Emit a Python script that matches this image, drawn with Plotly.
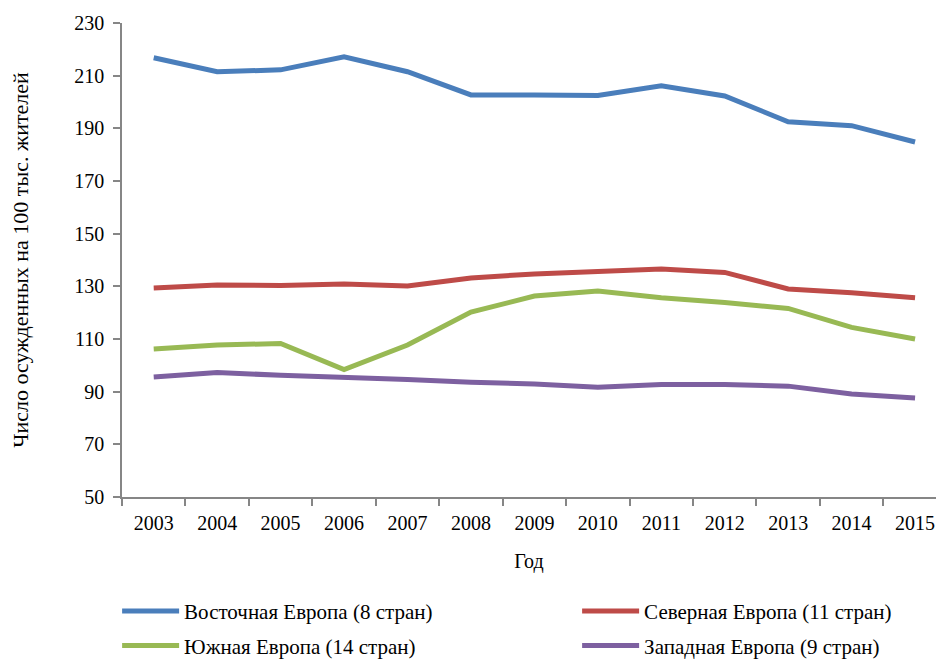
import plotly.graph_objects as go

# годы и значения (число осужденных на 100 тыс. жителей)
years = ["2003", "2004", "2005", "2006", "2007", "2008", "2009",
         "2010", "2011", "2012", "2013", "2014", "2015"]

east = [216.8, 211.5, 212.2, 217.2, 211.5, 202.7, 202.7,
        202.5, 206.2, 202.3, 192.5, 191.0, 184.8]
north = [129.4, 130.5, 130.3, 130.9, 130.1, 133.2, 134.7,
         135.8, 136.6, 135.3, 129.0, 127.6, 125.7]
south = [106.2, 107.7, 108.3, 98.4, 107.7, 120.2, 126.3,
         128.2, 125.7, 123.9, 121.6, 114.4, 110.0]
west = [95.6, 97.3, 96.2, 95.6, 94.6, 93.6, 92.9,
        91.7, 92.7, 92.7, 92.1, 89.1, 87.6]

series = [
    ("Восточная Европа (8 стран)", east, "#4A7EBB", "legend"),
    ("Северная Европа (11 стран)", north, "#BE4B48", "legend"),
    ("Южная Европа (14 стран)", south, "#98B954", "legend2"),
    ("Западная Европа (9 стран)", west, "#7D60A0", "legend2"),
]

FONT = "Liberation Serif"
AXIS_COLOR = "#868686"

fig = go.Figure()
for name, vals, color, leg in series:
    fig.add_trace(go.Scatter(
        x=years, y=vals, mode="lines", name=name,
        line=dict(color=color, width=5),
        legend=leg,
    ))

legend_style = dict(
    orientation="h", xanchor="left", yanchor="top",
    font=dict(family=FONT, size=21, color="#000"),
    itemwidth=57,
    entrywidth=388, entrywidthmode="pixels",
    bgcolor="rgba(0,0,0,0)", traceorder="normal",
)

# страница имеет отступ 8px, поэтому фигура чуть меньше окна
fig.update_layout(
    width=928, height=651,
    margin=dict(l=114, r=0, t=15, b=162, autoexpand=False),
    plot_bgcolor="white", paper_bgcolor="white",
    font=dict(family=FONT, size=20, color="#000"),
    showlegend=True,
    legend=dict(x=-0.006, y=-0.198, **legend_style),
    legend2=dict(x=-0.006, y=-0.271, **legend_style),
    xaxis=dict(
        type="category", range=[-0.5, 12.33], automargin=False,
        showline=True, linecolor=AXIS_COLOR, linewidth=1.5,
        ticks="outside", ticklen=7, tickcolor=AXIS_COLOR, tickwidth=1.5,
        tickson="boundaries", showgrid=False, ticklabelstandoff=7,
        ticklabeloverflow="allow",
        tickfont=dict(family=FONT, size=20),
        title=dict(text="Год", font=dict(family=FONT, size=20), standoff=21),
    ),
    yaxis=dict(
        range=[50, 230], dtick=20, tick0=50, automargin=False,
        showline=True, linecolor=AXIS_COLOR, linewidth=1.5,
        ticks="outside", ticklen=7, tickcolor=AXIS_COLOR, tickwidth=1.5,
        showgrid=False, zeroline=False, ticklabelstandoff=5,
        tickfont=dict(family=FONT, size=20),
        title=dict(text="Число осужденных на 100 тыс. жителей",
                   font=dict(family=FONT, size=22), standoff=42),
    ),
)

fig.write_html("out.html")
